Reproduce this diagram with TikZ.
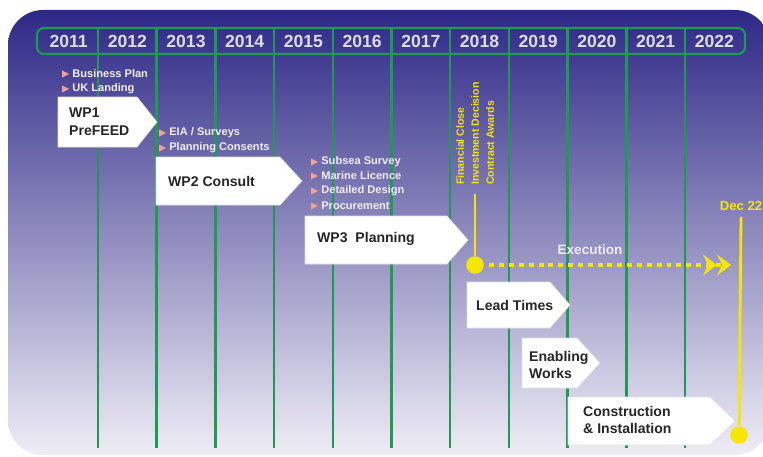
\documentclass[tikz,border=0pt]{standalone}
\usepackage{fontspec}
\setmainfont{Liberation Sans}
\usepackage{xcolor}
\usepackage{tikz}
\usetikzlibrary{
  arrows.meta,
  calc,
  shadings
}

\definecolor{bgtop}{HTML}{2D2886}
\definecolor{bgmid}{HTML}{887DBE}
\definecolor{bgbot}{HTML}{EFEDF6}
\definecolor{gridgreen}{HTML}{1E9B50}
\definecolor{execyellow}{HTML}{F7E600}
\definecolor{bulletpink}{HTML}{F2A193}
\definecolor{yeartext}{HTML}{DCDCE6}
\definecolor{bulletwhite}{HTML}{F0ECFA}

\tikzset{
  yeartag/.style={font=\fontsize{10}{12}\selectfont\bfseries, text=yeartext},
  gridline/.style={gridgreen, line width=1.4pt},
  wpfill/.style={fill=white, draw=black!12, line width=0.3pt},
  wptext/.style={anchor=west, align=left, font=\fontsize{8}{10}\selectfont\bfseries, text=black!85},
  bullettext/.style={anchor=west, inner sep=0pt, font=\fontsize{6.3}{7}\selectfont\bfseries, text=bulletwhite},
  milestone/.style={rotate=90, anchor=west, inner sep=1pt, font=\fontsize{6}{7}\selectfont\bfseries, text=execyellow},
  ydot/.style={circle, fill=execyellow, minimum size=10pt, inner sep=0pt},
  yline/.style={execyellow, line width=1.6pt},
  execline/.style={execyellow, line width=2.8pt, dash pattern=on 2.8pt off 2.8pt,
    -{Stealth[length=8pt,width=12pt,inset=3pt]Stealth[length=8pt,width=12pt,inset=3pt]}}
}

% 箭头框: 左, 上, 右, 下, 尖端
\newcommand{\wpshape}[5]{%
  \filldraw[wpfill] (#1,#2) -- (#3,#2) -- (#5,{(#2+#4)/2}) -- (#3,#4) -- (#1,#4) -- cycle;}
% 条目: 名称, x, y, 文字
\newcommand{\bulletitem}[4]{%
  \fill[bulletpink] (#2,#3-3.5) -- (#2+7,#3) -- (#2,#3+3.5) -- cycle;
  \node[bullettext] (#1) at (#2+10,#3) {#4};}

\begin{document}
\begin{tikzpicture}[x=0.02cm, y=-0.02cm]
    % 画布大小
    \useasboundingbox (0,0) rectangle (763,456);
    \clip (0,0) rectangle (763,456);

    % 1. 背景渐变
    \shade[top color=bgtop, middle color=bgmid, bottom color=bgbot, rounded corners=20pt]
        (8,10) rectangle (770,455);

    % 2. 年份栏与竖线
    \draw[gridgreen, line width=1.2pt, rounded corners=4pt] (37,28) rectangle (745,54);
    \foreach \i in {0,...,10}
        \draw[gridline] ({98+58.7*\i},28) -- ({98+58.7*\i},448);
    \foreach \yr [count=\i from 0] in {2011,...,2022}
        \node[yeartag] (y\yr) at ({68.6+58.7*\i},41) {\yr};

    % 3. 工作包
    \wpshape{58}{97}{137}{147}{157}
    \node[wptext] (wp1) at (63,122) {WP1\\PreFEED};
    \bulletitem{bplan}{62}{74}{Business Plan}
    \bulletitem{uklanding}{62}{89}{UK Landing}

    \wpshape{156}{157}{280}{205}{302}
    \node[wptext] (wp2) at (162,181) {WP2 Consult};
    \bulletitem{eia}{159}{133}{EIA / Surveys}
    \bulletitem{consents}{159}{148}{Planning Consents}

    \wpshape{305}{216}{447}{264}{468}
    \node[wptext] (wp3) at (311,239) {WP3\ \ Planning};
    \bulletitem{subsea}{311}{162}{Subsea Survey}
    \bulletitem{marine}{311}{176}{Marine Licence}
    \bulletitem{design}{311}{191}{Detailed Design}
    \bulletitem{procure}{311}{206}{Procurement}

    % 4. 执行阶段
    \wpshape{467}{282}{550}{328}{570}
    \node[wptext] (lead) at (470,305) {Lead Times};

    \wpshape{522}{338}{577}{388}{600}
    \node[wptext] (enabling) at (523,365) {Enabling\\Works};

    \wpshape{568}{397}{710}{445}{735}
    \node[wptext] (construct) at (577,420) {Construction\\\& Installation};

    % 5. 里程碑 (黄色)
    \node[milestone] (fin) at (460,187) {Financial Close};
    \node[milestone] (inv) at (475,187) {Investment Decision};
    \node[milestone] (con) at (490,187) {Contract Awards};
    \node[ydot] (fid) at (475,265) {};
    \draw[yline, shorten <=4pt] (inv.west) -- (fid);

    \coordinate (exend) at (731,265);
    \draw[execline, shorten <=3pt] (fid) -- (exend);
    \node[font=\fontsize{7.7}{9}\selectfont\bfseries, text=bulletwhite] (exec) at (590,250) {Execution};

    \node[font=\fontsize{7.5}{9}\selectfont\bfseries, text=execyellow] (dec) at (741,206) {Dec 22};
    \node[ydot] (decend) at (739,435) {};
    \draw[yline] (dec.south) -- (decend);
\end{tikzpicture}
\end{document}
